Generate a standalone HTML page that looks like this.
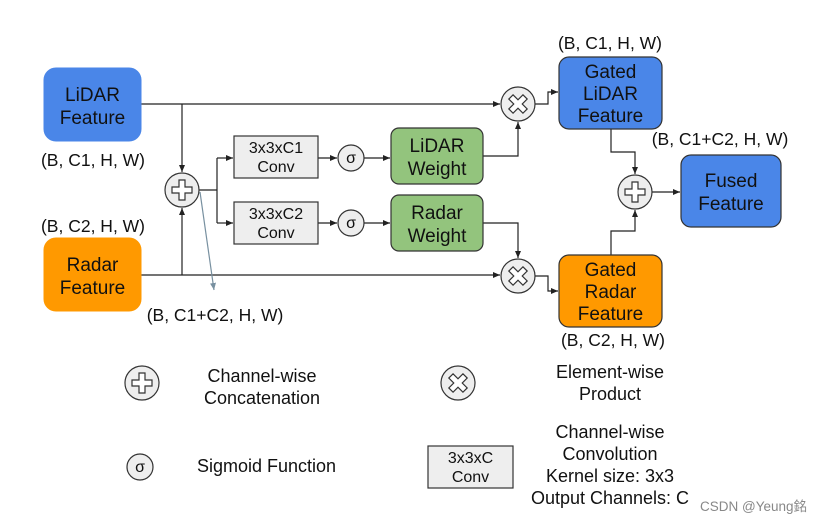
<!DOCTYPE html>
<html><head><meta charset="utf-8"><style>
html,body{margin:0;padding:0;background:#fff;}
svg{display:block;}
text{font-family:"Liberation Sans","Noto Sans CJK SC",sans-serif;fill:#111;}
</style></head><body>
<svg width="819" height="524" viewBox="0 0 819 524" xmlns="http://www.w3.org/2000/svg">
<defs>
<marker id="a" markerWidth="8" markerHeight="8" refX="7" refY="4" orient="auto" markerUnits="userSpaceOnUse"><path d="M0,1 L7,4 L0,7 z" fill="#222"/></marker>
<marker id="g" markerWidth="8" markerHeight="8" refX="7" refY="4" orient="auto" markerUnits="userSpaceOnUse"><path d="M0,1 L7,4 L0,7 z" fill="#7890a0"/></marker>
<g id="plus"><circle r="17" fill="#eeeeee" stroke="#333" stroke-width="1.2"/><path d="M-3,-10 H3 V-3 H10 V3 H3 V10 H-3 V3 H-10 V-3 H-3 Z" fill="#fff" stroke="#333" stroke-width="1.2"/></g>
<g id="mul"><circle r="17" fill="#eeeeee" stroke="#333" stroke-width="1.2"/><path d="M-3,-10 H3 V-3 H10 V3 H3 V10 H-3 V3 H-10 V-3 H-3 Z" fill="#fff" stroke="#333" stroke-width="1.2" transform="rotate(45)"/></g>
<g id="sig"><circle r="13" fill="#eeeeee" stroke="#333" stroke-width="1.2"/><text y="5" text-anchor="middle" font-size="16">σ</text></g>
</defs>
<g stroke="#222" stroke-width="1.2" fill="none">
<line x1="141" y1="104" x2="500" y2="104" marker-end="url(#a)"/>
<line x1="141" y1="275" x2="500" y2="275" marker-end="url(#a)"/>
<line x1="182" y1="104" x2="182" y2="172" marker-end="url(#a)"/>
<line x1="182" y1="275" x2="182" y2="208" marker-end="url(#a)"/>
<polyline points="199,190 217,190"/>
<polyline points="217,158 217,223"/>
<line x1="217" y1="158" x2="233" y2="158" marker-end="url(#a)"/>
<line x1="217" y1="223" x2="233" y2="223" marker-end="url(#a)"/>
<line x1="318" y1="158" x2="337" y2="158" marker-end="url(#a)"/>
<line x1="318" y1="223" x2="337" y2="223" marker-end="url(#a)"/>
<line x1="364" y1="158" x2="390" y2="158" marker-end="url(#a)"/>
<line x1="364" y1="223" x2="390" y2="223" marker-end="url(#a)"/>
<polyline points="483,156 518,156 518,122" marker-end="url(#a)"/>
<polyline points="483,223 518,223 518,258" marker-end="url(#a)"/>
<polyline points="535,104 548,104 548,92 558,92" marker-end="url(#a)"/>
<polyline points="535,276 548,276 548,291 558,291" marker-end="url(#a)"/>
<polyline points="611,129 611,152 635,152 635,174" marker-end="url(#a)"/>
<polyline points="611,255 611,231 635,231 635,210" marker-end="url(#a)"/>
<line x1="652" y1="192" x2="680" y2="192" marker-end="url(#a)"/>
</g>
<line x1="200" y1="192" x2="214" y2="290" stroke="#7890a0" stroke-width="1.2" marker-end="url(#g)"/>
<rect x="44" y="68" width="97" height="73" rx="12" fill="#4a86e8" stroke="#4a86e8"/>
<text x="92.5" y="101" text-anchor="middle" font-size="19">LiDAR</text>
<text x="92.5" y="124" text-anchor="middle" font-size="19">Feature</text>
<rect x="44" y="238" width="97" height="73" rx="12" fill="#ff9900" stroke="#ff9900"/>
<text x="92.5" y="271" text-anchor="middle" font-size="19">Radar</text>
<text x="92.5" y="294" text-anchor="middle" font-size="19">Feature</text>
<rect x="234" y="136" width="84" height="42" fill="#eeeeee" stroke="#333" stroke-width="1.2"/>
<text x="276" y="153" text-anchor="middle" font-size="16">3x3xC1</text>
<text x="276" y="172" text-anchor="middle" font-size="16">Conv</text>
<rect x="234" y="202" width="84" height="42" fill="#eeeeee" stroke="#333" stroke-width="1.2"/>
<text x="276" y="219" text-anchor="middle" font-size="16">3x3xC2</text>
<text x="276" y="238" text-anchor="middle" font-size="16">Conv</text>
<rect x="391" y="128" width="92" height="56" rx="8" fill="#93c47d" stroke="#333" stroke-width="1.2"/>
<text x="437" y="152" text-anchor="middle" font-size="19">LiDAR</text>
<text x="437" y="175" text-anchor="middle" font-size="19">Weight</text>
<rect x="391" y="195" width="92" height="56" rx="8" fill="#93c47d" stroke="#333" stroke-width="1.2"/>
<text x="437" y="219" text-anchor="middle" font-size="19">Radar</text>
<text x="437" y="242" text-anchor="middle" font-size="19">Weight</text>
<rect x="559" y="57" width="103" height="72" rx="10" fill="#4a86e8" stroke="#333" stroke-width="1.2"/>
<text x="610.5" y="78" text-anchor="middle" font-size="19">Gated</text>
<text x="610.5" y="100" text-anchor="middle" font-size="19">LiDAR</text>
<text x="610.5" y="122" text-anchor="middle" font-size="19">Feature</text>
<rect x="559" y="255" width="103" height="72" rx="10" fill="#ff9900" stroke="#333" stroke-width="1.2"/>
<text x="610.5" y="276" text-anchor="middle" font-size="19">Gated</text>
<text x="610.5" y="298" text-anchor="middle" font-size="19">Radar</text>
<text x="610.5" y="320" text-anchor="middle" font-size="19">Feature</text>
<rect x="681" y="155" width="100" height="72" rx="10" fill="#4a86e8" stroke="#333" stroke-width="1.2"/>
<text x="731" y="187" text-anchor="middle" font-size="19">Fused</text>
<text x="731" y="210" text-anchor="middle" font-size="19">Feature</text>
<use href="#plus" x="182" y="190"/>
<use href="#plus" x="635" y="192"/>
<use href="#mul" x="518" y="104"/>
<use href="#mul" x="518" y="276"/>
<use href="#sig" x="351" y="158"/>
<use href="#sig" x="351" y="223"/>
<g font-size="17.5" text-anchor="middle">
<text x="93" y="166">(B, C1, H, W)</text>
<text x="93" y="232">(B, C2, H, W)</text>
<text x="215" y="321">(B, C1+C2, H, W)</text>
<text x="610" y="49">(B, C1, H, W)</text>
<text x="720" y="145">(B, C1+C2, H, W)</text>
<text x="613" y="346">(B, C2, H, W)</text>
</g>
<use href="#plus" x="142" y="383"/>
<use href="#mul" x="458" y="383"/>
<use href="#sig" x="140" y="467"/>
<g font-size="18" text-anchor="middle">
<text x="262" y="382">Channel-wise</text>
<text x="262" y="404">Concatenation</text>
<text x="610" y="378">Element-wise</text>
<text x="610" y="400">Product</text>
<text x="610" y="438">Channel-wise</text>
<text x="610" y="460">Convolution</text>
<text x="610" y="482">Kernel size: 3x3</text>
<text x="610" y="504">Output Channels: C</text>
</g>
<text x="197" y="472" font-size="18">Sigmoid Function</text>
<rect x="428" y="446" width="85" height="42" fill="#eeeeee" stroke="#333" stroke-width="1.2"/>
<text x="470.5" y="463" text-anchor="middle" font-size="16">3x3xC</text>
<text x="470.5" y="482" text-anchor="middle" font-size="16">Conv</text>
<text x="700" y="511" font-size="13.5" style="fill:#888">CSDN @Yeung銘</text>
</svg>
</body></html>
